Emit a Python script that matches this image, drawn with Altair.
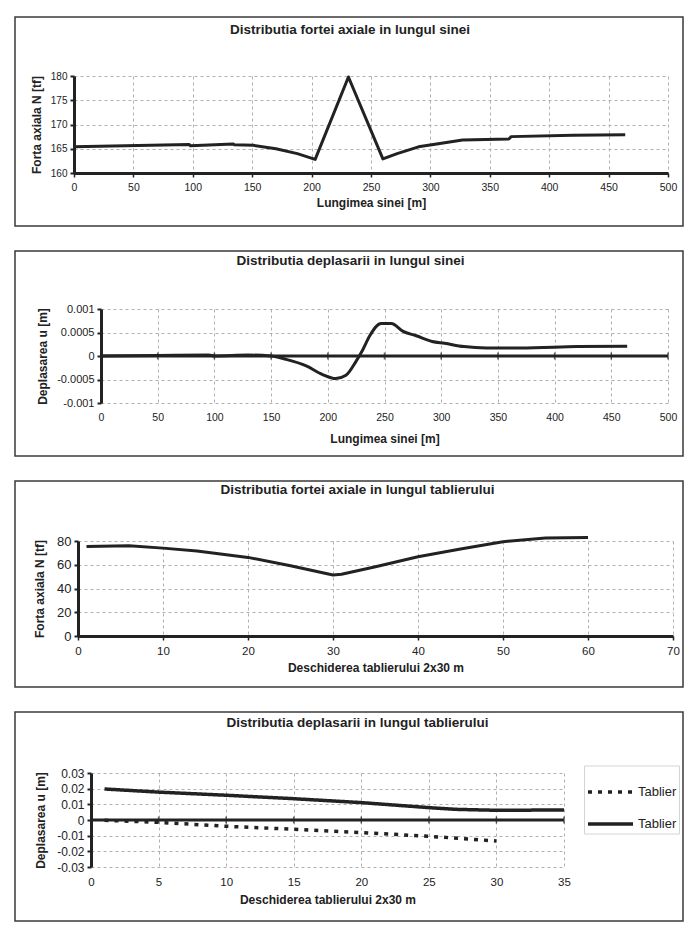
import altair as alt
import pandas as pd

FONT = "Liberation Sans"
DARK = "#222222"
GRID = "#b0b0b0"

# ---------- data ----------
# Panel 1: axial force along the rail
x1 = [0, 97, 98, 134, 135, 151, 170, 188, 203, 231, 260, 272, 290, 308, 327, 366, 368, 420, 464]
y1 = [165.4, 165.9, 165.6, 166.0, 165.8, 165.7, 165.0, 164.0, 162.8, 179.8, 162.9, 164.0,
      165.4, 166.1, 166.8, 167.0, 167.5, 167.8, 167.9]

# Panel 2: displacement along the rail
x2 = [0, 50, 95, 100, 130, 150, 163, 181, 195, 207, 216, 225, 231, 237, 247, 256, 266, 278,
      292, 303, 320, 340, 370, 420, 464]
y2 = [0.0, 0.00001, 0.00002, 0.0, 0.00002, 0.0, -0.00007, -0.00021, -0.00039, -0.00048,
      -0.00041, -0.00011, 0.00014, 0.00043, 0.00069, 0.00069, 0.00053, 0.00043, 0.00031,
      0.00027, 0.00020, 0.00017, 0.00017, 0.00020, 0.00021]

# Panel 3: axial force along the deck
x3 = [1, 6, 10, 14, 20, 25, 30, 31, 35, 40, 45, 50, 55, 60]
y3 = [75.4, 76.0, 74.0, 71.5, 66.2, 59.2, 51.3, 52.0, 58.3, 66.8, 73.2, 79.4, 82.5, 83.0]

# Panel 4: displacement along the deck (two series)
series_names = ["Tablier 1", "Tablier 2"]
x4a = [1, 5, 10, 15, 20, 25, 30]
y4a = [-0.0002, -0.0015, -0.0040, -0.0059, -0.0080, -0.0104, -0.0134]
x4b = [1, 5, 10, 15, 20, 25, 27, 30, 35]
y4b = [0.0198, 0.0178, 0.0158, 0.0136, 0.0111, 0.0079, 0.0068, 0.0062, 0.0064]

# tick values
xt1 = [0, 50, 100, 150, 200, 250, 300, 350, 400, 450, 500]
yt1 = [160, 165, 170, 175, 180]
yt2 = [-0.001, -0.0005, 0, 0.0005, 0.001]
xt3 = [0, 10, 20, 30, 40, 50, 60, 70]
yt3 = [0, 20, 40, 60, 80]
xt4 = [0, 5, 10, 15, 20, 25, 30, 35]
yt4 = [-0.03, -0.02, -0.01, 0, 0.01, 0.02, 0.03]

df1 = pd.DataFrame({"x": x1, "y": y1})
df2 = pd.DataFrame({"x": x2, "y": y2})
df3 = pd.DataFrame({"x": x3, "y": y3})
df4 = pd.concat([
    pd.DataFrame({"x": x4a, "y": y4a, "s": series_names[0]}),
    pd.DataFrame({"x": x4b, "y": y4b, "s": series_names[1]}),
])
one = pd.DataFrame({"v": [0]})


def yaxis(title, values, fs, pad):
    return alt.Axis(values=values, tickCount=len(values), title=title, grid=True,
                    gridColor=GRID, gridDash=[3, 3], gridWidth=1, domainColor=DARK,
                    domainWidth=3, tickColor=DARK, tickWidth=2, tickSize=4, labelFont=FONT,
                    labelFontSize=fs, labelColor=DARK, labelPadding=3, labelOverlap=False,
                    labelExpr="toString(datum.value)", titleFont=FONT, titleFontSize=12,
                    titleFontWeight="bold", titleColor=DARK, titlePadding=pad)


def xaxis(title, values, fs, lpad, tpad, domain):
    kw = dict(values=values, tickCount=len(values), title=title, grid=True, gridColor=GRID,
              gridDash=[3, 3], gridWidth=1, labelFont=FONT, labelFontSize=fs, labelColor=DARK,
              labelPadding=lpad, labelExpr="toString(datum.value)", labelFlush=False,
              labelOverlap=False, titleFont=FONT, titleFontSize=12, titleFontWeight="bold",
              titleColor=DARK, titlePadding=tpad)
    if domain:
        kw.update(domain=True, domainColor=DARK, domainWidth=3, ticks=True, tickColor=DARK,
                  tickWidth=1.5, tickSize=4)
    else:
        kw.update(domain=False, ticks=False)
    return alt.Axis(**kw)


def frame(x0, x1_, y0, y1_):
    return alt.Chart(one).mark_rect(fill="white", fillOpacity=0, stroke="#3a3a3a",
                                    strokeWidth=1.5).encode(
        x=alt.value(x0), x2=alt.value(x1_), y=alt.value(y0), y2=alt.value(y1_))


def zero_line():
    return alt.Chart(one).mark_rule(color=DARK, strokeWidth=3).encode(y=alt.datum(0))


def zero_ticks(values):
    # small tick marks where the horizontal axis crosses y = 0
    return alt.Chart(pd.DataFrame({"x": values})).mark_tick(
        orient="vertical", size=7, thickness=1.5, color=DARK).encode(
        x="x:Q", y=alt.datum(0))


def ttl(text, dx, offset):
    return alt.TitleParams(text=text, font=FONT, fontSize=13.5, fontWeight="bold", color=DARK,
                           anchor="middle", dx=dx, offset=offset)


def spacer():
    return alt.Chart(one).mark_point(size=1, strokeWidth=0, opacity=0).encode(
        x=alt.value(0.5), y=alt.value(0.5)).properties(width=1, height=1)


def row(panel):
    return alt.hconcat(spacer(), panel, spacing=0).resolve_scale(
        strokeDash="independent").resolve_legend(strokeDash="independent")


# ---------- panel 1 ----------
p1_line = alt.Chart(df1).mark_line(color=DARK, strokeWidth=3, strokeJoin="round").encode(
    x=alt.X("x:Q", scale=alt.Scale(domain=[0, 500], nice=False, zero=False),
            axis=xaxis("Lungimea sinei [m]", xt1, 10.5, 5, 5, True)),
    y=alt.Y("y:Q", scale=alt.Scale(domain=[160, 180], nice=False, zero=False),
            axis=yaxis("Forta axiala N [tf]", yt1, 10, 7)),
)
p1 = alt.layer(frame(-59, 609, -59, 150), p1_line).properties(
    width=594, height=97, title=ttl("Distributia fortei axiale in lungul sinei", -21, -20))

# ---------- panel 2 ----------
p2_line = alt.Chart(df2).mark_line(color=DARK, strokeWidth=3, interpolate="monotone").encode(
    x=alt.X("x:Q", scale=alt.Scale(domain=[0, 500], nice=False, zero=False),
            axis=xaxis("Lungimea sinei [m]", xt1, 10.5, 9, 11, False)),
    y=alt.Y("y:Q", scale=alt.Scale(domain=[-0.001, 0.001], nice=False, zero=False),
            axis=yaxis("Deplasarea u [m]", yt2, 11, 7)),
)
p2 = alt.layer(frame(-86, 582, -58, 147), zero_line(), zero_ticks(xt1), p2_line).properties(
    width=567, height=94, title=ttl("Distributia deplasarii in lungul sinei", -34, -17))

# ---------- panel 3 ----------
p3_line = alt.Chart(df3).mark_line(color=DARK, strokeWidth=3, strokeJoin="round").encode(
    x=alt.X("x:Q", scale=alt.Scale(domain=[0, 70], nice=False, zero=False),
            axis=xaxis("Deschiderea tablierului 2x30 m", xt3, 11.5, 5, 6, True)),
    y=alt.Y("y:Q", scale=alt.Scale(domain=[0, 80], nice=False, zero=False),
            axis=yaxis("Forta axiala N [tf]", yt3, 13, 10)),
)
p3 = alt.layer(frame(-63, 605, -60, 146), p3_line).properties(
    width=595, height=95, title=ttl("Distributia fortei axiale in lungul tablierului", -18, -16))

# ---------- panel 4 ----------
p4_line = alt.Chart(df4).mark_line(color=DARK, strokeWidth=3.5, strokeCap="butt").encode(
    x=alt.X("x:Q", scale=alt.Scale(domain=[0, 35], nice=False, zero=False),
            axis=xaxis("Deschiderea tablierului 2x30 m", xt4, 11.5, 9, 7, False)),
    y=alt.Y("y:Q", scale=alt.Scale(domain=[-0.03, 0.03], nice=False, zero=False),
            axis=yaxis("Deplasarea u [m]", yt4, 12, 9)),
    strokeDash=alt.StrokeDash(
        "s:N",
        scale=alt.Scale(domain=series_names, range=[[4, 6], [1, 0]]),
        legend=alt.Legend(title=None, orient="none", legendX=493, legendY=-7.5,
                          symbolType="stroke", symbolStrokeWidth=3.5, symbolSize=2025,
                          symbolStrokeColor=DARK, labelFont=FONT, labelFontSize=13,
                          labelColor=DARK, labelExpr="'Tablier'", strokeColor="#d4d4d4",
                          padding=2, rowPadding=-25, labelOffset=3),
    ),
)
p4 = alt.layer(frame(-76, 592, -61, 148), zero_line(), zero_ticks(xt4), p4_line).properties(
    width=473, height=94, title=ttl("Distributia deplasarii in lungul tablierului", 30, -18))

chart = alt.vconcat(
    row(p1), row(p2), row(p3), row(p4), spacing=23
).properties(
    padding={"left": 13, "top": 16, "right": 0, "bottom": 0},
    background="white",
).resolve_scale(strokeDash="independent").resolve_legend(strokeDash="independent"
).configure_view(strokeWidth=0)

chart.save("out.html", embed_options={"renderer": "svg", "actions": False})
